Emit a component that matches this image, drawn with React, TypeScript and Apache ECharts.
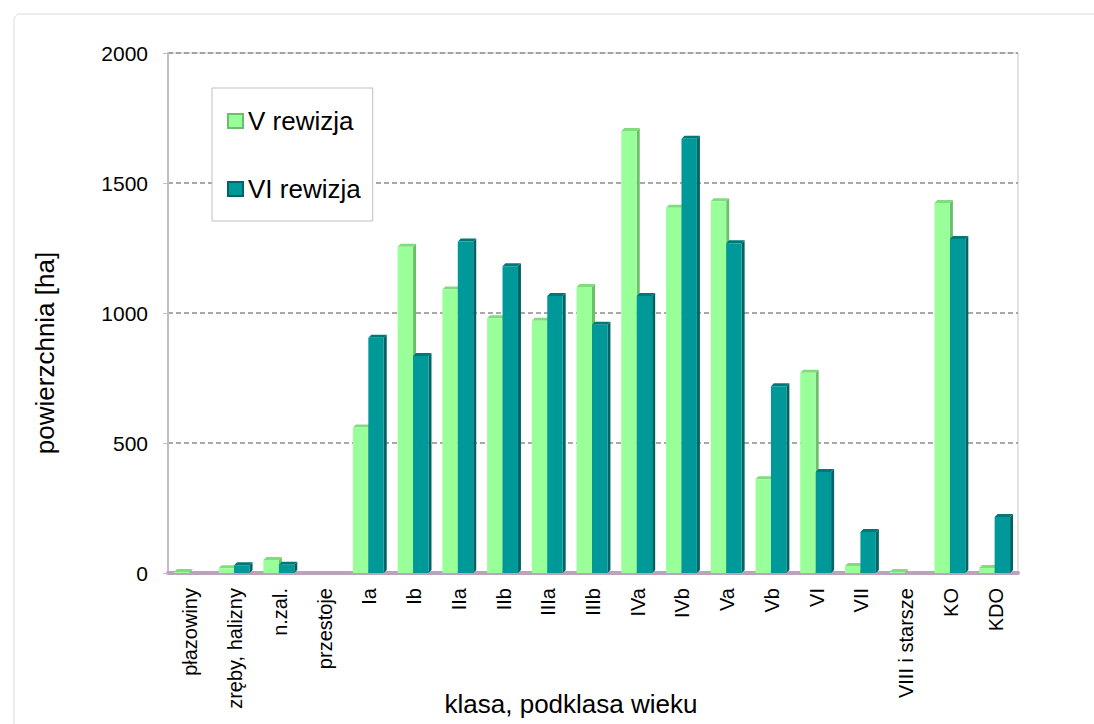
import React, { useEffect, useRef } from "react";
import * as echarts from "echarts";

const categories = [
  "płazowiny", "zręby, halizny", "n.zal.", "przestoje", "Ia", "Ib", "IIa", "IIb",
  "IIIa", "IIIb", "IVa", "IVb", "Va", "Vb", "VI", "VII", "VIII i starsze", "KO", "KDO",
];
const seriesNames = ["V rewizja", "VI rewizja"];
const valuesV = [3, 18, 50, 0, 560, 1255, 1090, 980, 970, 1100, 1700, 1405, 1430, 361, 770, 27, 4, 1423, 19];
const valuesVI = [0, 30, 32, 0, 905, 835, 1275, 1180, 1065, 955, 1065, 1670, 1268, 718, 388, 158, 0, 1285, 215];
const yTicks = { min: 0, max: 2000, interval: 500 };
const xTitle = "klasa, podklasa wieku";
const yTitle = "powierzchnia [ha]";

const palettes = [
  { front: "#99FF99", side: "#6CBF6A", top: "#80DC7E" },
  { front: "#009999", side: "#006464", top: "#007878" },
];

function makeRender(sIdx: number) {
  return (params: any, api: any) => {
    const idx = api.value(0);
    const val = api.value(1);
    if (!val) return null;
    const base = api.coord([idx, 0]);
    const top = api.coord([idx, val]);
    const band = api.size([1, 0])[0];
    const w = band * 0.345;
    const d = 3;
    const cx = base[0];
    const x = sIdx === 0 ? cx - w - 1 : cx - 1;
    const yTop = Math.min(top[1], base[1] - 1);
    const yBase = base[1];
    const p = palettes[sIdx];
    return {
      type: "group",
      children: [
        {
          type: "polygon",
          shape: { points: [[x + w, yTop], [x + w + d, yTop - d], [x + w + d, yBase - d], [x + w, yBase]] },
          style: { fill: p.side },
        },
        {
          type: "polygon",
          shape: { points: [[x, yTop], [x + d, yTop - d], [x + w + d, yTop - d], [x + w, yTop]] },
          style: { fill: p.top },
        },
        {
          type: "rect",
          shape: { x: x, y: yTop, width: w, height: yBase - yTop },
          style: { fill: p.front },
        },
      ],
    };
  };
}

export default function App() {
  const ref = useRef<HTMLDivElement>(null);
  useEffect(() => {
    if (!ref.current) return;
    const chart = echarts.init(ref.current, null, { renderer: "svg" });
    const font = "'Liberation Sans', Arial, sans-serif";
    chart.setOption({
      animation: false,
      backgroundColor: "#ffffff",
      textStyle: { fontFamily: font },
      graphic: [
        {
          type: "rect",
          shape: { x: 14, y: 14, width: 1100, height: 740, r: 6 },
          style: { fill: "none", stroke: "#D9D9D9", lineWidth: 1 },
          silent: true,
          z: -1,
        },
        {
          type: "text",
          x: 571,
          y: 704,
          style: { text: xTitle, font: "26px 'Liberation Sans', Arial, sans-serif", fill: "#000", textAlign: "center", textVerticalAlign: "middle" },
        },
        {
          type: "text",
          x: 45,
          y: 353,
          rotation: Math.PI / 2,
          style: { text: yTitle, font: "26px 'Liberation Sans', Arial, sans-serif", fill: "#000", textAlign: "center", textVerticalAlign: "middle" },
        },
      ],
      grid: {
        left: 168,
        right: 76,
        top: 53,
        bottom: 151,
        show: true,
        borderColor: "#C8C8C8",
        borderWidth: 1,
      },
      legend: {
        data: seriesNames,
        orient: "vertical",
        left: 212,
        top: 88,
        padding: [20, 12, 19, 15],
        itemGap: 42,
        itemWidth: 15,
        itemHeight: 14,
        icon: "rect",
        borderColor: "#BFBFBF",
        borderWidth: 1,
        backgroundColor: "#fff",
        textStyle: { fontSize: 26, color: "#000", fontFamily: font, lineHeight: 26 },
      },
      xAxis: {
        type: "category",
        data: categories,
        axisLine: { show: true, lineStyle: { color: "#BBA3BD", width: 4 } },
        axisTick: { show: false },
        axisLabel: { rotate: 90, fontSize: 20, color: "#000", margin: 15, interval: 0, fontFamily: font },
        splitLine: { show: false },
      },
      yAxis: {
        type: "value",
        min: yTicks.min,
        max: yTicks.max,
        interval: yTicks.interval,
        axisLine: { show: true, lineStyle: { color: "#BFBFBF", width: 2 } },
        axisTick: { show: true, length: 5, lineStyle: { color: "#BFBFBF" } },
        axisLabel: { fontSize: 21, color: "#000", margin: 20, fontFamily: font, formatter: (v: number) => String(v) },
        splitLine: { show: true, lineStyle: { color: "#8C8C8C", type: [5, 3], width: 1.5 } },
      },
      series: [
        {
          type: "custom",
          name: seriesNames[0],
          renderItem: makeRender(0),
          itemStyle: { color: palettes[0].front, borderColor: palettes[0].side, borderWidth: 1 },
          data: valuesV.map((v, i) => [i, v]),
          encode: { x: 0, y: 1 },
          z: 2,
        },
        {
          type: "custom",
          name: seriesNames[1],
          renderItem: makeRender(1),
          itemStyle: { color: palettes[1].front, borderColor: palettes[1].side, borderWidth: 1 },
          data: valuesVI.map((v, i) => [i, v]),
          encode: { x: 0, y: 1 },
          z: 3,
        },
      ],
    });
    return () => chart.dispose();
  }, []);
  return (
    <div
      ref={ref}
      style={{ position: "fixed", left: 0, top: 0, width: 1094, height: 724 }}
    />
  );
}
